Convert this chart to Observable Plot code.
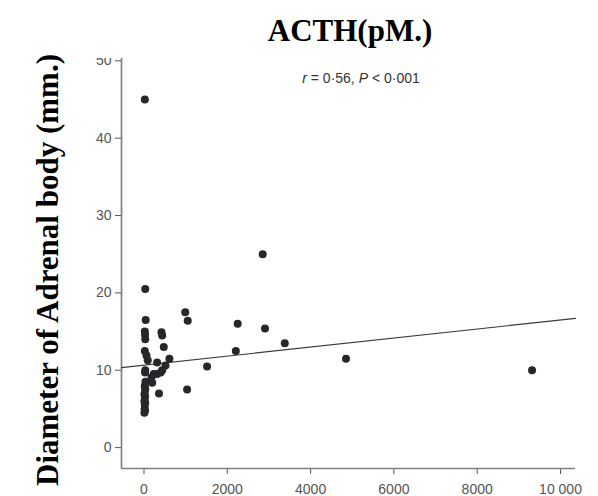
<!DOCTYPE html>
<html>
<head>
<meta charset="utf-8">
<script src="https://cdn.jsdelivr.net/npm/d3@7"></script>
<script src="https://cdn.jsdelivr.net/npm/@observablehq/plot@0.6"></script>
<style>
  html, body { margin: 0; padding: 0; background: white; }
  #wrap { position: relative; width: 598px; height: 496px; overflow: hidden; background: white; }
  #title { position: absolute; left: 350px; top: 15px; transform: translateX(-50%);
    font: bold 31px/31px "Liberation Serif", "Times New Roman", serif; color: #000; white-space: nowrap; }
  #ylab { position: absolute; left: 0; top: 0; transform: translate(58px, 270px) rotate(-90deg); transform-origin: 0 0; }
  #ylab span { position: absolute; left: 0; top: 0; transform: translate(-50%, -26px);
    font: bold 31px/31px "Liberation Serif", "Times New Roman", serif; color: #000; white-space: nowrap; }
  #note { position: absolute; left: 361px; top: 71px; transform: translateX(-50%);
    font: 14px/14px "Liberation Sans", Arial, sans-serif; color: #333; white-space: nowrap; }
  #chart { position: absolute; left: 0; top: 58px; }
</style>
</head>
<body>
<div id="wrap">
  <div id="chart"></div>
  <div id="title">ACTH(pM.)</div>
  <div id="ylab"><span>Diameter of Adrenal body (mm.)</span></div>
  <div id="note"><i>r</i> = 0·56, <i>P</i> &lt; 0·001</div>
</div>
<script>
// Data
const acth = [
  20, 30, 40, 20, 25, 30, 20, 60, 90, 30, 25,
  10, 15, 20, 10, 25, 15, 30, 20, 35, 25, 30, 15, 20,
  180, 197, 235, 316, 316, 360, 420, 437, 475, 437, 400, 516, 610,
  990, 1050, 1035, 1515, 2205, 2250, 2850, 2905, 3380, 4850, 9317
];
const diameter = [
  45, 20.5, 16.5, 15.0, 14.6, 14.0, 12.5, 11.9, 11.3, 10.0, 9.7,
  4.5, 5.0, 5.5, 6.0, 6.5, 7.0, 7.5, 8.0, 8.5, 4.8, 5.8, 6.8, 7.8,
  9.1, 8.4, 9.5, 11.0, 9.5, 7.0, 14.9, 14.5, 13.0, 10.0, 9.7, 10.6, 11.5,
  17.5, 16.4, 7.5, 10.5, 12.5, 16.0, 25.0, 15.4, 13.5, 11.5, 10.0
];
// Regression line end points
const fitX = [-540, 10360];
const fitY = [10.35, 16.7];
// Axis settings
const xDomain = [-540, 10360];
const yDomain = [-2.7, 50.3];
const xTicks = [0, 2000, 4000, 6000, 8000, 10000];
const xTickLabels = ["0", "2000", "4000", "6000", "8000", "10 000"];
const yTicks = [0, 10, 20, 30, 40, 50];

const points = acth.map((a, i) => ({acth: a, diameter: diameter[i]}));
const fit = fitX.map((x, i) => ({x, y: fitY[i]}));

const chart = Plot.plot({
  width: 598,
  height: 438,
  marginLeft: 121,
  marginRight: 23,
  marginTop: 0,
  marginBottom: 28,
  style: {
    fontFamily: '"Liberation Sans", Arial, sans-serif',
    fontSize: "14px",
    color: "#555",
    background: "white",
    overflow: "hidden"
  },
  x: {
    domain: xDomain,
    ticks: xTicks,
    tickFormat: d => xTickLabels[xTicks.indexOf(d)],
    tickSize: 6,
    tickPadding: 10,
    label: null
  },
  y: {
    domain: yDomain,
    ticks: yTicks,
    tickSize: 6,
    tickPadding: 4,
    label: null
  },
  marks: [
    Plot.ruleX([xDomain[0]], {stroke: "#808080", strokeWidth: 1.7}),
    Plot.ruleY([yDomain[0]], {stroke: "#808080", strokeWidth: 1.7}),
    Plot.line(fit, {x: "x", y: "y", stroke: "#3a3a3a", strokeWidth: 1.2}),
    Plot.dot(points, {x: "acth", y: "diameter", r: 4, fill: "#26262b", stroke: "none"})
  ]
});
document.getElementById("chart").appendChild(chart);
</script>
</body>
</html>
